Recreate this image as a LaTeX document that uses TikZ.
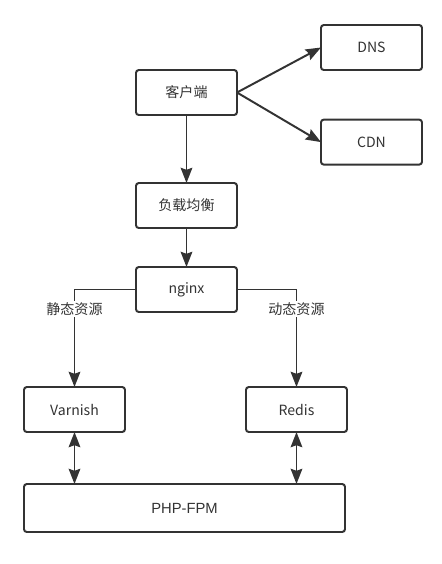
\documentclass[tikz,border=0pt]{standalone}
\usepackage{fontspec}
\setmainfont{Noto Sans CJK SC}
\newfontfamily\phpfont{Liberation Sans}
\usepackage{tikz}
\usetikzlibrary{arrows.meta, positioning}
\definecolor{linecolor}{RGB}{51, 51, 51}
\tikzstyle{box} = [rectangle, rounded corners=2pt, minimum width=2.525cm, minimum height=1.125cm,
                   text centered, draw=linecolor, line width=1.4pt, outer sep=0pt, fill=white,
                   text=linecolor, font=\fontsize{10}{12}\selectfont]
\tikzstyle{arrow} = [-{Stealth[length=3.8mm, width=2.9mm, inset=0.5mm]}, line width=1.4pt, draw=linecolor]
\tikzstyle{biarrow} = [{Stealth[length=3.8mm, width=2.9mm, inset=0.5mm]}-{Stealth[length=3.8mm, width=2.9mm, inset=0.5mm]}, line width=1.4pt, draw=linecolor]
\tikzstyle{tag} = [fill=white, inner sep=1pt, text=linecolor, font=\fontsize{10}{12}\selectfont]

\begin{document}
\begin{tikzpicture}[node distance=1.7cm and 2.1cm]
    \useasboundingbox (-4.6625,-11.7875) rectangle (6.3875,2.3125);
    % Nodes
    \node[box] (client) at (0,0) {客户端};
    \node[box, right=of client, yshift=1.125cm] (dns) {DNS};
    \node[box, right=of client, yshift=-1.24cm] (cdn) {CDN};
    \node[box, below=of client] (balancer) {负载均衡};
    \node[box, below=0.975cm of balancer] (nginx) {nginx};
    \node[box, below=1.875cm of nginx, xshift=-2.8cm] (varnish) {Varnish};
    \node[box, below=1.875cm of nginx, xshift=2.75cm] (redis) {Redis};
    \node[box, below=1.3cm of varnish.south west, anchor=north west, minimum width=8.025cm,
          minimum height=1.2cm, font=\phpfont\fontsize{10.5}{12}\selectfont] (php) {PHP-FPM};

    % Connections
    \draw[arrow] (client.east) -- (dns.west);
    \draw[arrow] (client.east) -- (cdn.west);
    \draw[arrow] (client) -- (balancer);
    \draw[arrow] (balancer) -- (nginx);
    \draw[arrow] (nginx.west) -| node[tag, pos=0.6] {静态资源} (varnish.north);
    \draw[arrow] (nginx.east) -| node[tag, pos=0.6] {动态资源} (redis.north);
    \draw[biarrow] (varnish.south) -- (varnish.south |- php.north);
    \draw[biarrow] (redis.south) -- (redis.south |- php.north);
\end{tikzpicture}
\end{document}
